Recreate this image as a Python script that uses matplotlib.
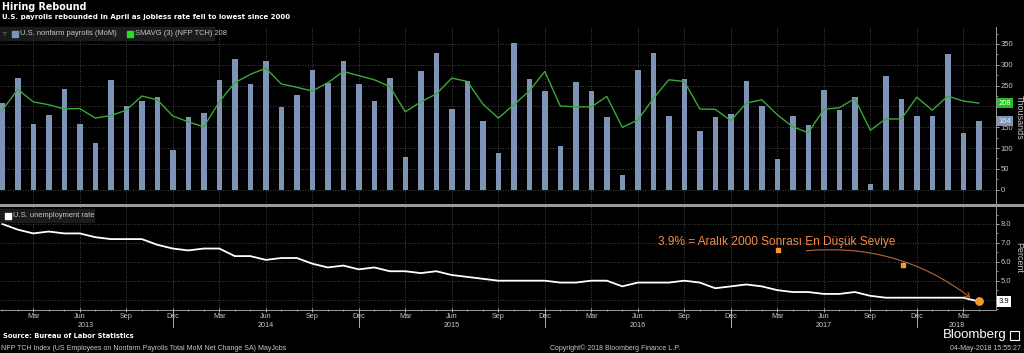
import matplotlib
matplotlib.use("Agg")
import matplotlib.pyplot as plt
import numpy as np
from matplotlib.patches import Rectangle, FancyArrowPatch
from matplotlib.lines import Line2D
import matplotlib.transforms as mtransforms

# ---------------- data ----------------
start_month = "2013-01"
payrolls = [208, 268, 157, 180, 242, 159, 112, 263, 202, 213, 223, 95,
            175, 184, 263, 314, 254, 309, 199, 228, 287, 257, 309, 254,
            212, 268, 79, 284, 328, 193, 260, 165, 89, 353, 266, 236,
            104, 259, 237, 175, 35, 287, 328, 177, 266, 141, 174, 181,
            261, 201, 74, 176, 155, 240, 191, 222, 14, 272, 217, 176,
            177, 326, 136, 164]
smavg3 = [191, 241, 211, 204, 194, 195, 172, 178, 191, 225, 216, 177,
          163, 151, 211, 257, 277, 292, 254, 246, 237, 257, 284, 274,
          264, 248, 187, 211, 230, 268, 260, 206, 172, 204, 237, 284,
          201, 199, 199, 224, 150, 167, 219, 264, 260, 194, 193, 166,
          208, 216, 180, 151, 137, 193, 197, 219, 143, 170, 170, 222,
          191, 225, 213, 208]
unemployment = [8.0, 7.7, 7.5, 7.6, 7.5, 7.5, 7.3, 7.2, 7.2, 7.2, 6.9, 6.7,
                6.6, 6.7, 6.7, 6.3, 6.3, 6.1, 6.2, 6.2, 5.9, 5.7, 5.8, 5.6,
                5.7, 5.5, 5.5, 5.4, 5.5, 5.3, 5.2, 5.1, 5.0, 5.0, 5.0, 5.0,
                4.9, 4.9, 5.0, 5.0, 4.7, 4.9, 4.9, 4.9, 5.0, 4.9, 4.6, 4.7,
                4.8, 4.7, 4.5, 4.4, 4.4, 4.3, 4.3, 4.4, 4.2, 4.1, 4.1, 4.1,
                4.1, 4.1, 4.1, 3.9]
quarter_labels = ["Mar", "Jun", "Sep", "Dec"]
year_labels = ["2013", "2014", "2015", "2016", "2017", "2018"]
year_label_pos = [5.4, 17.0, 29.0, 41.0, 53.0, 61.6]
payroll_ticks = [0, 50, 100, 150, 200, 250, 300, 350]
payroll_ticklabels = ["0", "50", "100", "150", "", "250", "300", "350"]
rate_ticks = [4.0, 5.0, 6.0, 7.0, 8.0]
rate_ticklabels = ["", "5.0", "6.0", "7.0", "8.0"]
annot_text = "3.9% = Aralık 2000 Sonrası En Düşük Seviye"
annot_pts_x = [50.05, 58.1]
annot_pts_y = [6.62, 5.83]

# ---------------- style ----------------
BG = "black"
BAR = "#7e94b7"
GREEN = "#3aa83a"
GREEN_TAG = "#20c020"
TXT = "#c8c8c8"
GRID = "#5a5a5a"
ORANGE = "#f28a46"
SMALL = ["Liberation Sans", "DejaVu Sans"]
plt.rcParams["font.family"] = SMALL

W, H = 1024, 353
def fx(x): return x / W
def fy(y): return 1 - y / H

fig = plt.figure(figsize=(W / 100, H / 100), dpi=100, facecolor=BG)
ax1 = fig.add_axes([0, fy(204), fx(996), (204 - 27) / H], facecolor=BG)
ax2 = fig.add_axes([0, fy(310), fx(996), (310 - 206) / H], facecolor=BG)

n = len(payrolls)
x = np.arange(n)
xlim = (-0.148, 64.11)
quarter_idx = np.arange(2, n, 3)
grid_kw = dict(color=GRID, linewidth=0.6, linestyle=(0, (1, 2)))

# ---------- top panel ----------
ax1.bar(x, payrolls, width=0.35, color=BAR, zorder=3)
ax1.plot(x, smavg3, color=GREEN, linewidth=1.0, zorder=4)
ax1.set_xlim(*xlim)
ax1.set_ylim(-34.3, 390.8)
ax1.yaxis.tick_right()
ax1.set_yticks(payroll_ticks)
ax1.set_yticklabels(payroll_ticklabels)
ax1.set_yticks(np.arange(25, 400, 50), minor=True)
ax1.set_xticks(quarter_idx)
ax1.tick_params(axis="x", length=0, labelbottom=False)
ax1.tick_params(axis="y", which="major", colors=TXT, labelsize=5.5, length=2.5, pad=1, width=0.6)
ax1.tick_params(axis="y", which="minor", colors=TXT, length=1.5, width=0.5)
ax1.grid(True, which="major", **grid_kw)
ax1.set_axisbelow(True)
for s in ["left", "top", "bottom"]:
    ax1.spines[s].set_visible(False)
ax1.spines["right"].set_color("#9a9a9a")
ax1.spines["right"].set_linewidth(0.7)

# value tags (top)
ax1.annotate(f"{smavg3[-1]:.0f}", xy=(1.0, smavg3[-1]), xycoords=("axes fraction", "data"),
             xytext=(2, 0), textcoords="offset points", fontsize=5.5, color="white",
             va="center", ha="left", annotation_clip=False,
             bbox=dict(boxstyle="square,pad=0.2", fc=GREEN_TAG, ec="none"), zorder=10)
ax1.annotate(f"{payrolls[-1]:.0f}", xy=(1.0, payrolls[-1]), xycoords=("axes fraction", "data"),
             xytext=(2, 0), textcoords="offset points", fontsize=5.5, color="#e8ecf4",
             va="center", ha="left", annotation_clip=False,
             bbox=dict(boxstyle="square,pad=0.2", fc=BAR, ec="none"), zorder=10)

# ---------- bottom panel ----------
ax2.plot(x, unemployment, color="white", linewidth=1.3, zorder=4)
ax2.set_xlim(*xlim)
ax2.set_ylim(3.45, 8.95)
ax2.yaxis.tick_right()
ax2.set_yticks(rate_ticks)
ax2.set_yticklabels(rate_ticklabels)
ax2.set_yticks(np.arange(3.5, 9.0, 0.5), minor=True)
ax2.tick_params(axis="y", which="major", colors=TXT, labelsize=5.5, length=2.5, pad=1, width=0.6)
ax2.tick_params(axis="y", which="minor", colors=TXT, length=1.5, width=0.5)
ax2.set_xticks(quarter_idx)
ax2.set_xticklabels([quarter_labels[i % 4] for i in range(len(quarter_idx))])
ax2.set_xticks(x, minor=True)
ax2.tick_params(axis="x", which="major", colors=TXT, labelsize=5.2, length=3, direction="inout", pad=0.6, width=0.6)
ax2.tick_params(axis="x", which="minor", colors=TXT, length=2, direction="inout", width=0.5)
ax2.grid(True, which="major", **grid_kw)
ax2.set_axisbelow(True)
for s in ["left", "top"]:
    ax2.spines[s].set_visible(False)
for s in ["right", "bottom"]:
    ax2.spines[s].set_color("#9a9a9a")
    ax2.spines[s].set_linewidth(0.7)

trans2 = mtransforms.blended_transform_factory(ax2.transData, ax2.transAxes)
for yl, xp in zip(year_labels, year_label_pos):
    ax2.text(xp, -0.148, yl, transform=trans2, fontsize=5.2, color=TXT, ha="center", va="center")
for d in range(11, n, 12):
    ax2.add_line(Line2D([d, d], [0, -0.16], transform=trans2, color=TXT, linewidth=0.6, clip_on=False))

# value tag bottom
ax2.annotate(f"{unemployment[-1]:.1f}", xy=(1.0, unemployment[-1]), xycoords=("axes fraction", "data"),
             xytext=(2, 0), textcoords="offset points", fontsize=5.5, color="black",
             va="center", ha="left", annotation_clip=False,
             bbox=dict(boxstyle="square,pad=0.2", fc="white", ec="none"), zorder=10)

# annotation
ax2.text(42.3, 7.05, annot_text, color=ORANGE, fontsize=8.6, ha="left", va="center", zorder=6)
ax2.scatter(annot_pts_x, annot_pts_y, marker="s", s=9, color="#f39a2c", zorder=6)
ax2.scatter([x[-1]], [unemployment[-1]], marker="o", s=28, color="#f39a2c", zorder=7)
arrow = FancyArrowPatch((51.7, 6.57), (62.6, 4.02), connectionstyle="arc3,rad=-0.2",
                        arrowstyle="->,head_length=3,head_width=2", color="#b8643a",
                        linewidth=0.8, zorder=5)
ax2.add_patch(arrow)

# axis unit labels
fig.text(fx(1019), fy(117), "Thousands", rotation=270, color=TXT, fontsize=6.5, ha="center", va="center")
fig.text(fx(1019), fy(258), "Percent", rotation=270, color=TXT, fontsize=6.5, ha="center", va="center")

# separator between panels
fig.add_artist(Line2D([0, 1], [fy(205), fy(205)], transform=fig.transFigure, color="#9a9a9a", linewidth=2.2))

# legends
fig.add_artist(Rectangle((0, fy(40)), fx(214), 13 / H, transform=fig.transFigure, color="#1b1b1b", zorder=5))
fig.add_artist(Rectangle((fx(12), fy(37)), fx(6), 6 / H, transform=fig.transFigure, color=BAR, zorder=6))
fig.text(fx(20), fy(33.5), "U.S. nonfarm payrolls (MoM)", color=TXT, fontsize=5.4, va="center", ha="left", zorder=6)
fig.add_artist(Rectangle((fx(127), fy(37)), fx(6), 6 / H, transform=fig.transFigure, color="#22e022", zorder=6))
fig.text(fx(135), fy(33.5), f"SMAVG (3) (NFP TCH) {smavg3[-1]}", color=TXT, fontsize=5.4, va="center", ha="left", zorder=6)
fig.text(fx(3), fy(33.5), "\u25bf", color="#888888", fontsize=5, va="center", ha="left", zorder=6,
         family="DejaVu Sans")

fig.add_artist(Rectangle((0, fy(222)), fx(94), 13 / H, transform=fig.transFigure, color="#1b1b1b", zorder=5))
fig.add_artist(Rectangle((fx(5), fy(219)), fx(6), 6 / H, transform=fig.transFigure, color="white", zorder=6))
fig.text(fx(13), fy(215.5), "U.S. unemployment rate", color=TXT, fontsize=5.4, va="center", ha="left", zorder=6)

# titles
fig.text(fx(2), fy(7), "Hiring Rebound", color="white", fontsize=6.9, fontweight="bold", va="center", ha="left",
         family="DejaVu Sans")
fig.text(fx(2), fy(17.5), "U.S. payrolls rebounded in April as jobless rate fell to lowest since 2000",
         color="white", fontsize=5.0, fontweight="bold", va="center", ha="left", family="DejaVu Sans")

# footer
fig.text(fx(3), fy(336.5), "Source: Bureau of Labor Statistics", color="white", fontsize=4.9,
         fontweight="bold", va="center", ha="left", family="DejaVu Sans")
fig.text(fx(1), fy(348.5), "NFP TCH Index (US Employees on Nonfarm Payrolls Total MoM Net Change SA) MayJobs",
         color=TXT, fontsize=5.0, va="center", ha="left")
fig.text(fx(615), fy(348.5), "Copyright\u00a9 2018 Bloomberg Finance L.P.", color=TXT, fontsize=5.0,
         va="center", ha="center")
fig.text(fx(1021), fy(348.5), "04-May-2018 15:55:27", color=TXT, fontsize=5.0, va="center", ha="right")
fig.text(fx(1007), fy(335), "Bloomberg", color="white", fontsize=9.5, va="center", ha="right")
fig.add_artist(Rectangle((fx(1010), fy(340)), fx(9), 9 / H, transform=fig.transFigure,
                         facecolor="none", edgecolor="white", linewidth=0.8))

fig.savefig("out.png", dpi=100, facecolor=BG)
